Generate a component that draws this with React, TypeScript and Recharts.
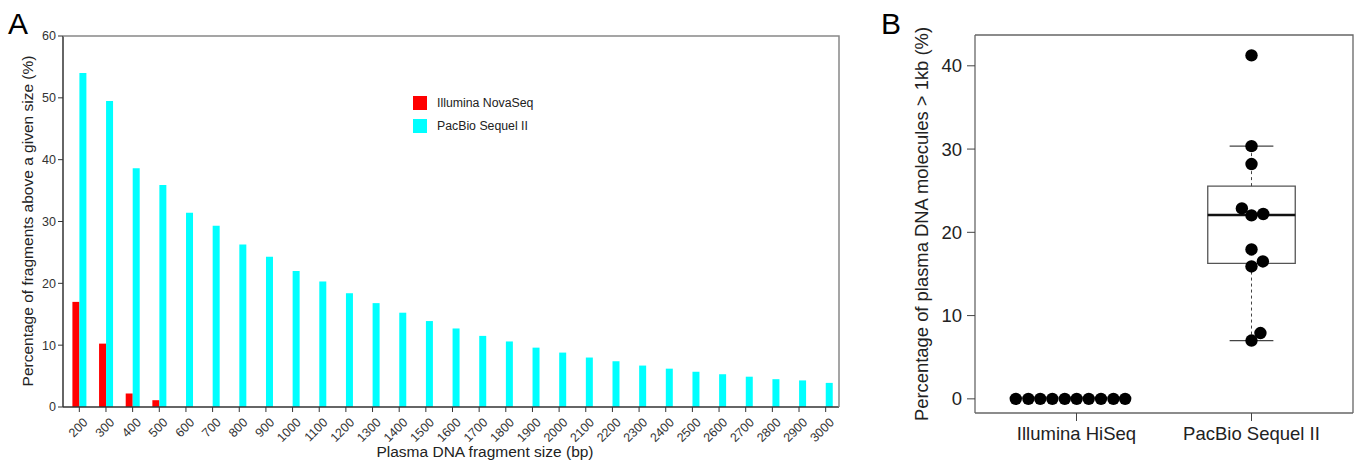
import React from 'react';
import {
  BarChart, Bar, XAxis, YAxis,
  ComposedChart, Scatter, ReferenceArea, ReferenceLine,
} from 'recharts';

// panel A: share of fragments above a given size
const sizes = ['200', '300', '400', '500', '600', '700', '800', '900', '1000', '1100', '1200', '1300', '1400', '1500', '1600', '1700', '1800', '1900', '2000', '2100', '2200', '2300', '2400', '2500', '2600', '2700', '2800', '2900', '3000'];
const illuminaNovaSeq = [17.0, 10.25, 2.2, 1.1, 0, 0, 0, 0, 0, 0, 0, 0, 0, 0, 0, 0, 0, 0, 0, 0, 0, 0, 0, 0, 0, 0, 0, 0, 0];
const pacbioSequel = [54.0, 49.5, 38.6, 35.9, 31.4, 29.3, 26.3, 24.3, 22.0, 20.3, 18.4, 16.8, 15.25, 13.9, 12.7, 11.5, 10.6, 9.6, 8.8, 8.0, 7.4, 6.7, 6.2, 5.7, 5.3, 4.9, 4.5, 4.3, 3.9];
const yTicksA = [0, 10, 20, 30, 40, 50, 60];
const seriesA = [['Illumina NovaSeq', '#ff0000'], ['PacBio Sequel II', '#00ffff']];

// panel B: share of molecules > 1kb per sample
const groups = ['Illumina HiSeq', 'PacBio Sequel II'];
const hiseqX = [0.653, 0.725, 0.793, 0.862, 0.933, 1.001, 1.07, 1.14, 1.211, 1.278];
const hiseqY = [0, 0, 0, 0, 0, 0, 0, 0, 0, 0];
const sequelX = [2.0, 2.0, 2.0, 1.945, 2.0, 2.067, 2.0, 2.0, 2.065, 2.051, 2.0];
const sequelY = [41.25, 30.35, 28.2, 22.87, 22.03, 22.2, 17.94, 15.9, 16.5, 7.9, 7.0];
// box stats: lower whisker, q1, median, q3, upper whisker
const sequelBox = [7.0, 16.26, 22.07, 25.55, 30.35];
const yTicksB = [0, 10, 20, 30, 40];

const barRows = sizes.map((s, i) => ({ size: s, illumina: illuminaNovaSeq[i], pacbio: pacbioSequel[i] }));
const hiseqPts = hiseqX.map((x, i) => ({ x, y: hiseqY[i] }));
const sequelPts = sequelX.map((x, i) => ({ x, y: sequelY[i] }));

const FONT = 'Arial, "Liberation Sans", Helvetica, sans-serif';

const RotTick = (props: any) => {
  const { x, y, payload } = props;
  return (
    <g transform={`translate(${x + 3},${y + 3})`}>
      <text x={0} y={0} dy="0.7em" textAnchor="end" transform="rotate(-45)" fontSize={12.5} fill="#333" fontFamily={FONT}>
        {payload.value}
      </text>
    </g>
  );
};

const dot = (p: any) => <circle cx={p.cx} cy={p.cy} r={6.2} fill="#000" />;

export default function App() {
  return (
    <div style={{ position: 'absolute', left: 0, top: 0, width: 1355, height: 462, background: '#fff', fontFamily: FONT }}>
      <div style={{ position: 'absolute', left: 0, top: 0 }}>
        <BarChart width={850} height={462} data={barRows} margin={{ top: 36, right: 11, left: 0, bottom: 0 }}
          barGap={0} barCategoryGap="24%">
          <XAxis dataKey="size" interval={0} height={55} tick={<RotTick />} tickSize={5} padding={{ left: 3, right: 0 }}
            axisLine={{ stroke: '#333', strokeWidth: 1.5 }} tickLine={{ stroke: '#333' }}
            label={{
              content: () => (
                <text x={485} y={457} textAnchor="middle" fontSize={15.5} fill="#222" fontFamily={FONT}>
                  Plasma DNA fragment size (bp)
                </text>
              ),
            }} />
          <YAxis width={63} domain={[0, 60]} ticks={yTicksA} tickSize={5} interval={0}
            tick={{ fontSize: 12.5, fill: '#333', fontFamily: FONT }}
            axisLine={{ stroke: '#333', strokeWidth: 1.5 }} tickLine={{ stroke: '#333' }}
            label={{
              content: () => (
                <text x={27} y={221} textAnchor="middle" dominantBaseline="central" transform="rotate(-90, 27, 221)"
                  fontSize={15.5} fill="#222" fontFamily={FONT}>
                  Percentage of fragments above a given size (%)
                </text>
              ),
            }} />
          <Bar dataKey="illumina" name={seriesA[0][0]} fill={seriesA[0][1]} isAnimationActive={false} />
          <Bar dataKey="pacbio" name={seriesA[1][0]} fill={seriesA[1][1]} isAnimationActive={false} />
        </BarChart>
        <div style={{ position: 'absolute', left: 413, top: 91, fontFamily: FONT, fontSize: 12.3, color: '#222' }}>
          {seriesA.map(([name, c]) => (
            <div key={name} style={{ display: 'flex', alignItems: 'center', height: 23 }}>
              <span style={{ width: 14, height: 14, background: c, marginRight: 10 }} />
              <span>{name}</span>
            </div>
          ))}
        </div>
      </div>

      <div style={{ position: 'absolute', left: 860, top: 0 }}>
        <ComposedChart width={495} height={462} margin={{ top: 35, right: 2, left: 0, bottom: 0 }}>
          <XAxis type="number" dataKey="x" domain={[0.42, 2.58]} ticks={[1, 2]} allowDataOverflow
            tickFormatter={(v: number) => groups[Math.round(v) - 1]} height={49} tickSize={8} tickMargin={6}
            tick={{ fontSize: 18.5, fill: '#222', fontFamily: FONT }}
            axisLine={{ stroke: '#666', strokeWidth: 1.3 }} tickLine={{ stroke: '#444' }} />
          <YAxis type="number" dataKey="y" domain={[-1.7, 43.7]} ticks={yTicksB} width={115} tickSize={8} tickMargin={5}
            allowDataOverflow tick={{ fontSize: 18.5, fill: '#222', fontFamily: FONT }}
            axisLine={{ stroke: '#666', strokeWidth: 1.3 }} tickLine={{ stroke: '#444' }}
            label={{
              content: () => (
                <text x={61} y={224} textAnchor="middle" dominantBaseline="central" transform="rotate(-90, 61, 224)"
                  fontSize={18.4} fill="#222" fontFamily={FONT}>
                  Percentage of plasma DNA molecules &gt; 1kb (%)
                </text>
              ),
            }} />
          <ReferenceLine segment={[{ x: 2, y: sequelBox[0] }, { x: 2, y: sequelBox[1] }]} stroke="#444" strokeDasharray="3 3" />
          <ReferenceLine segment={[{ x: 2, y: sequelBox[3] }, { x: 2, y: sequelBox[4] }]} stroke="#444" strokeDasharray="3 3" />
          <ReferenceLine segment={[{ x: 1.875, y: sequelBox[0] }, { x: 2.125, y: sequelBox[0] }]} stroke="#444" strokeWidth={1.3} />
          <ReferenceLine segment={[{ x: 1.875, y: sequelBox[4] }, { x: 2.125, y: sequelBox[4] }]} stroke="#444" strokeWidth={1.3} />
          <ReferenceArea x1={1.75} x2={2.25} y1={sequelBox[1]} y2={sequelBox[3]} fill="#fff" fillOpacity={0} stroke="#555" strokeWidth={1.3} />
          <ReferenceLine segment={[{ x: 1.75, y: sequelBox[2] }, { x: 2.25, y: sequelBox[2] }]} stroke="#111" strokeWidth={2.5} />
          <Scatter data={hiseqPts} shape={dot} isAnimationActive={false} />
          <Scatter data={sequelPts} shape={dot} isAnimationActive={false} />
        </ComposedChart>
      </div>

      <svg width={1355} height={462} style={{ position: 'absolute', left: 0, top: 0, pointerEvents: 'none' }}>
        <polyline points="63,36 839,36 839,407" fill="none" stroke="#888" strokeWidth={1.5} />
        <polyline points="975,35 1353,35 1353,413" fill="none" stroke="#666" strokeWidth={1.3} />
        <text x={8} y={34} fontSize={30} fill="#000" fontFamily={FONT}>A</text>
        <text x={881} y={34} fontSize={30} fill="#000" fontFamily={FONT}>B</text>
      </svg>
    </div>
  );
}
